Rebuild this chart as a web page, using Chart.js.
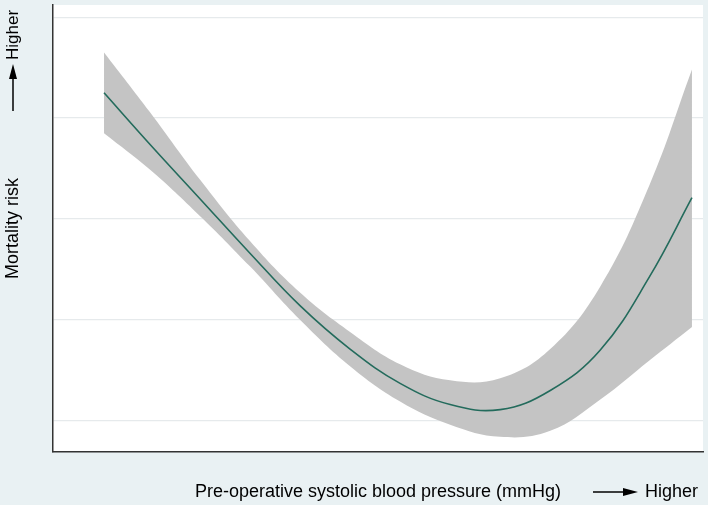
<!DOCTYPE html>
<html>
<head>
<meta charset="utf-8">
<script src="https://cdn.jsdelivr.net/npm/chart.js@4.4.0/dist/chart.umd.min.js"></script>
<style>
  html, body { margin: 0; padding: 0; background: #e9f1f3; }
  #wrap { width: 708px; height: 505px; }
</style>
</head>
<body>
<div id="wrap"><canvas id="my-chart" width="708" height="505"></canvas></div>
<script>
// blood pressure position (relative scale, no tick labels in the original)
const pressure = [7.85, 14.9, 22.6, 30.3, 38.0, 45.7, 53.4, 61.1, 68.8, 76.5, 84.2, 91.8, 98.3];
// estimated mortality risk (relative) with its confidence band
const risk  = [4.25, 3.74, 3.20, 2.66, 2.14, 1.71, 1.37, 1.16, 1.11, 1.30, 1.70, 2.43, 3.21];
const upper = [4.65, 4.06, 3.39, 2.78, 2.27, 1.88, 1.56, 1.40, 1.42, 1.71, 2.33, 3.34, 4.48];
const lower = [3.85, 3.49, 3.03, 2.53, 2.00, 1.54, 1.19, 0.96, 0.84, 0.90, 1.21, 1.60, 1.93];
const gridTicks = [1, 2, 3, 4, 5];

function pts(ys) {
  return pressure.map((x, i) => ({ x: x, y: ys[i] }));
}

const fontFamily = '"Liberation Sans", Arial, sans-serif';

// arrows + "Higher" labels next to the axis titles
const arrowLabels = {
  id: 'arrowLabels',
  afterDraw(chart) {
    const ctx = chart.ctx;
    ctx.save();
    ctx.fillStyle = '#000';
    ctx.strokeStyle = '#000';
    ctx.lineWidth = 1.5;

    // y axis arrow
    ctx.beginPath();
    ctx.moveTo(13, 111);
    ctx.lineTo(13, 76);
    ctx.stroke();
    ctx.beginPath();
    ctx.moveTo(13, 64);
    ctx.lineTo(9, 79);
    ctx.lineTo(17, 79);
    ctx.closePath();
    ctx.fill();

    ctx.save();
    ctx.font = '17px ' + fontFamily;
    ctx.translate(13, 35);
    ctx.rotate(-Math.PI / 2);
    ctx.textAlign = 'center';
    ctx.textBaseline = 'middle';
    ctx.fillText('Higher', 0, 0);
    ctx.restore();

    // x axis arrow
    ctx.beginPath();
    ctx.moveTo(593, 492);
    ctx.lineTo(626, 492);
    ctx.stroke();
    ctx.beginPath();
    ctx.moveTo(638, 492);
    ctx.lineTo(623, 488);
    ctx.lineTo(623, 496);
    ctx.closePath();
    ctx.fill();

    ctx.font = '18px ' + fontFamily;
    ctx.textAlign = 'left';
    ctx.textBaseline = 'middle';
    ctx.fillText('Higher', 645, 492);
    ctx.restore();
  }
};

// white plotting region
const plotBg = {
  id: 'plotBg',
  beforeDraw(chart) {
    const a = chart.chartArea;
    chart.ctx.save();
    chart.ctx.fillStyle = '#ffffff';
    chart.ctx.fillRect(a.left, a.top, a.right - a.left, a.bottom - a.top);
    chart.ctx.restore();
  }
};

const ctx = document.getElementById('my-chart').getContext('2d');
new Chart(ctx, {
  type: 'line',
  data: {
    datasets: [
      {
        label: 'risk',
        data: pts(risk),
        borderColor: '#236b5c',
        borderWidth: 1.6,
        pointRadius: 0,
        fill: false,
        tension: 0.4
      },
      {
        label: 'upper',
        data: pts(upper),
        borderWidth: 0,
        pointRadius: 0,
        backgroundColor: '#c4c4c4',
        fill: '+1',
        tension: 0.4
      },
      {
        label: 'lower',
        data: pts(lower),
        borderWidth: 0,
        pointRadius: 0,
        fill: false,
        tension: 0.4
      }
    ]
  },
  options: {
    responsive: false,
    animation: false,
    layout: { padding: { top: 5, right: 5, left: 0, bottom: 0 } },
    plugins: {
      legend: { display: false },
      tooltip: { enabled: false }
    },
    scales: {
      x: {
        type: 'linear',
        min: 0,
        max: 100,
        grid: { display: false },
        border: { display: true, color: '#333', width: 1.5 },
        ticks: { display: false },
        afterFit(scale) { scale.height = 53; },
        title: {
          display: true,
          text: 'Pre-operative systolic blood pressure (mmHg)',
          color: '#000',
          font: { size: 18, family: fontFamily },
          padding: { top: 0, bottom: 2 }
        }
      },
      y: {
        type: 'linear',
        min: 0.69,
        max: 5.12,
        afterBuildTicks(scale) { scale.ticks = gridTicks.map(v => ({ value: v })); },
        grid: { color: '#e6eaec', lineWidth: 1.2, drawTicks: false },
        border: { display: true, color: '#333', width: 1.5 },
        ticks: { display: false },
        afterFit(scale) { scale.width = 53; },
        title: {
          display: true,
          text: 'Mortality risk',
          color: '#000',
          font: { size: 18, family: fontFamily },
          padding: { top: 2, bottom: 0 }
        }
      }
    }
  },
  plugins: [plotBg, arrowLabels]
});
</script>
</body>
</html>
